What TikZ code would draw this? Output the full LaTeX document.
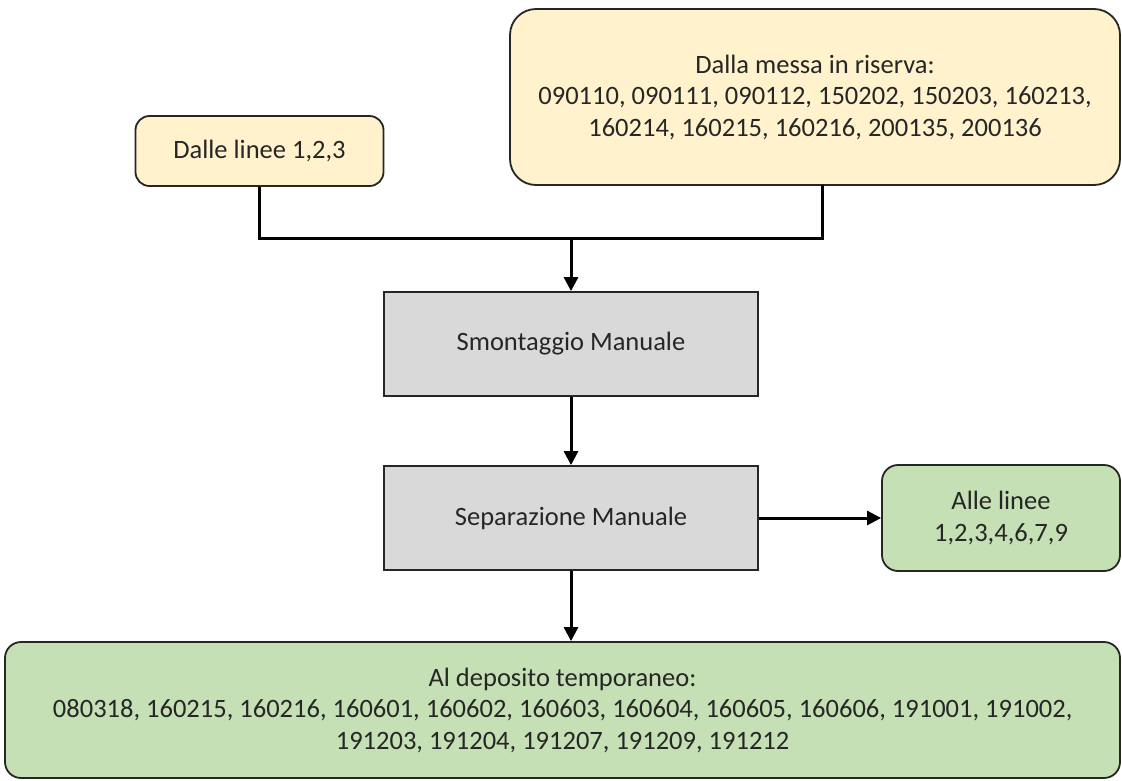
\documentclass[tikz,border=0pt]{standalone}
\usepackage{fontspec}
\setmainfont{Carlito}
\usetikzlibrary{arrows.meta}
\definecolor{yel}{HTML}{FFF2CC}
\definecolor{grn}{HTML}{C5E0B4}
\definecolor{gry}{HTML}{D9D9D9}
\definecolor{txt}{HTML}{262626}
\begin{document}
\begin{tikzpicture}[x=1pt,y=-1pt,
  box/.style={draw=black!85,line width=1.8pt,text=txt,align=center,inner sep=0pt,
    font=\fontsize{26.5}{31.5}\selectfont},
  yelbox/.style={box,fill=yel,rounded corners=14pt},
  grnbox/.style={box,fill=grn,rounded corners=16pt},
  grybox/.style={box,fill=gry},
  conn/.style={line width=3pt,black},
  arr/.style={conn,-{Triangle[length=14pt,width=14pt]}}]
\useasboundingbox[fill=white] (0,0) rectangle (1122,780);
\node[yelbox,minimum width=248pt,minimum height=70pt] (A) at (259.5,151) {Dalle linee 1,2,3};
\node[yelbox,rounded corners=26pt,minimum width=610pt,minimum height=176pt] (B) at (815,97)
  {Dalla messa in riserva:\\090110, 090111, 090112, 150202, 150203, 160213,\\160214, 160215, 160216, 200135, 200136};
\node[grybox,minimum width=374pt,minimum height=104pt] (S) at (571,344) {Smontaggio Manuale};
\node[grybox,minimum width=374pt,minimum height=104pt] (P) at (571,518) {Separazione Manuale};
\node[grnbox,minimum width=238pt,minimum height=106pt] (G) at (1001,518) {Alle linee\\1,2,3,4,6,7,9};
\node[grnbox,minimum width=1115pt,minimum height=136pt] (D) at (562.5,710)
  {Al deposito temporaneo:\\080318, 160215, 160216, 160601, 160602, 160603, 160604, 160605, 160606, 191001, 191002,\\191203, 191204, 191207, 191209, 191212};
\coordinate (j) at (571,238);
\coordinate (bj) at (822,185);
\draw[conn] (A.south) |- (j) -| (bj);
\draw[arr] (j) -- (S.north);
\draw[arr] (S.south) -- (P.north);
\draw[arr] (P.east) -- (G.west);
\draw[arr] (P.south) -- (P.south |- D.north);
\end{tikzpicture}
\end{document}
